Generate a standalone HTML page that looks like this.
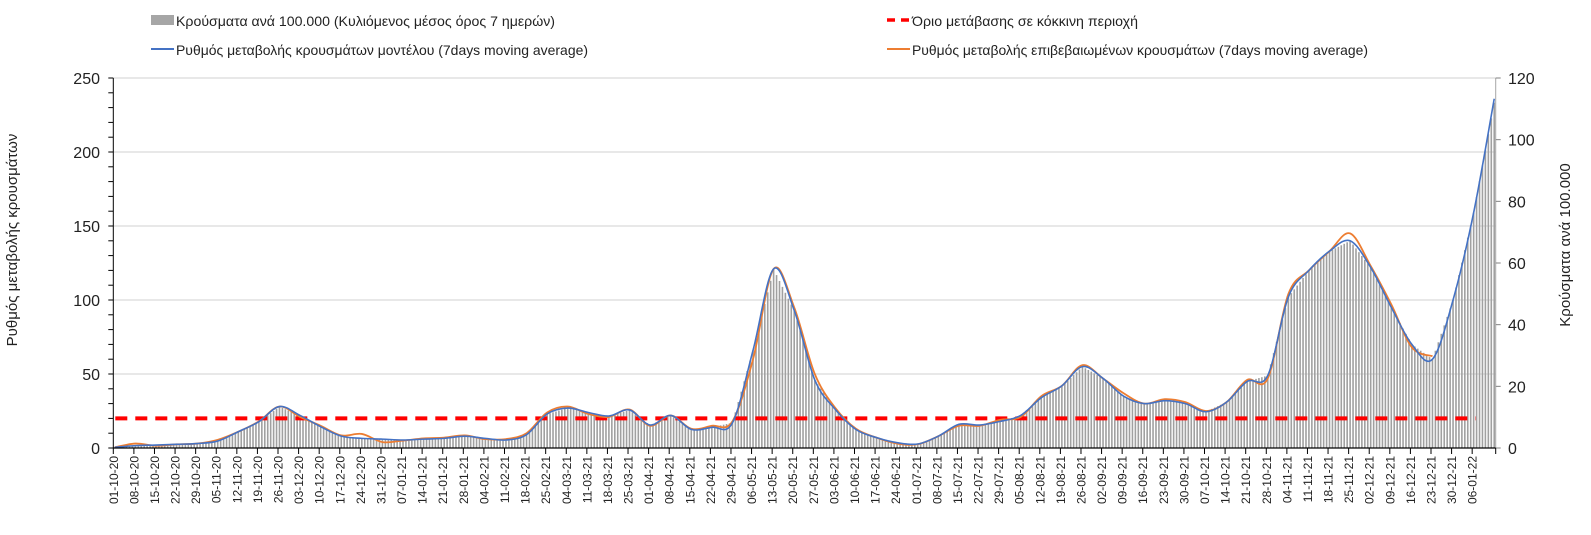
<!DOCTYPE html>
<html><head><meta charset="utf-8"><style>
html,body{margin:0;padding:0;background:#fff;}
svg{display:block;font-family:"Liberation Sans",sans-serif;}
</style></head><body>
<svg id="chart" width="1591" height="535" viewBox="0 0 1591 535" xmlns="http://www.w3.org/2000/svg">
<rect x="0" y="0" width="1591" height="535" fill="#fff"/>
<g id="grid"></g>
<g id="bars"></g>
<g id="lines"></g>
<g id="axes"></g>
<g>
 <rect x="151" y="15" width="23" height="10" fill="#a6a6a6"/>
 <text x="176" y="26" font-size="14" textLength="379" lengthAdjust="spacingAndGlyphs" fill="#222">Κρούσματα ανά 100.000 (Κυλιόμενος μέσος όρος 7 ημερών)</text>
 <line x1="151" y1="49" x2="174" y2="49" stroke="#4472c4" stroke-width="2"/>
 <text x="176" y="55" font-size="14" textLength="412" lengthAdjust="spacingAndGlyphs" fill="#222">Ρυθμός μεταβολής κρουσμάτων μοντέλου (7days moving average)</text>
 <line x1="887" y1="20" x2="910" y2="20" stroke="#ff0000" stroke-width="3.5" stroke-dasharray="8,6"/>
 <text x="912" y="26" font-size="14" textLength="226" lengthAdjust="spacingAndGlyphs" fill="#222">Όριο μετάβασης σε κόκκινη περιοχή</text>
 <line x1="887" y1="49" x2="910" y2="49" stroke="#ed7d31" stroke-width="2"/>
 <text x="912" y="55" font-size="14" textLength="456" lengthAdjust="spacingAndGlyphs" fill="#222">Ρυθμός μεταβολής επιβεβαιωμένων κρουσμάτων (7days moving average)</text>
</g>
<text transform="translate(17,240) rotate(-90)" text-anchor="middle" font-size="15" fill="#222">Ρυθμός μεταβολής κρουσμάτων</text>
<text transform="translate(1570,245) rotate(-90)" text-anchor="middle" font-size="15" fill="#222">Κρούσματα ανά 100.000</text>
</svg>
<script>
const dateLabels = ["01-10-20","08-10-20","15-10-20","22-10-20","29-10-20","05-11-20","12-11-20","19-11-20","26-11-20","03-12-20","10-12-20","17-12-20","24-12-20","31-12-20","07-01-21","14-01-21","21-01-21","28-01-21","04-02-21","11-02-21","18-02-21","25-02-21","04-03-21","11-03-21","18-03-21","25-03-21","01-04-21","08-04-21","15-04-21","22-04-21","29-04-21","06-05-21","13-05-21","20-05-21","27-05-21","03-06-21","10-06-21","17-06-21","24-06-21","01-07-21","08-07-21","15-07-21","22-07-21","29-07-21","05-08-21","12-08-21","19-08-21","26-08-21","02-09-21","09-09-21","16-09-21","23-09-21","30-09-21","07-10-21","14-10-21","21-10-21","28-10-21","04-11-21","11-11-21","18-11-21","25-11-21","02-12-21","09-12-21","16-12-21","23-12-21","30-12-21","06-01-22"];
const sampleDays = [0,7,14,21,28,35,42,49,56,63,70,77,84,91,98,105,112,119,126,133,140,147,154,161,168,175,182,189,196,203,210,217,224,231,238,245,252,259,266,273,280,287,294,301,308,315,322,329,336,343,350,357,364,371,378,385,392,399,406,413,420,427,434,441,448,455,462,469];
const modelRate = [0.5,1.6,2,2.5,3,4.7,11,17.8,28,22,14.4,8,6.5,6,5.4,6,6.5,8,6.5,5.4,9,23,27,24,21.6,25.7,15.5,22,12.6,14,17,66,121,93,46,26,12.5,7,3.6,2.7,8,16,15.5,18,22,34,42,55,47,35,30,32,30,24.5,31,45,49,102,120,133,140,122,95,70,60,100,159,236];
const confirmedRate = [0.5,3,1.5,2.5,3,5.5,11,18,28,21,15,8.5,9.5,4,5,6.5,7,8.5,6,6,10,24,28,23,21,26,15,22,13,15,18,60,121,95,50,27,13,7,3,2.5,8,15,15,19,21,35,42,56,47,37,30,33,31,25,31,46,47,104,120,133,145,123,97,68,62];
const casesPer100k = [0.2,0.8,1,1.2,1.4,2.3,5.3,8.5,13.4,10.5,6.9,3.8,3.1,2.9,2.6,2.9,3.1,3.8,3.1,2.6,4.3,11,13,11.5,10.4,12.3,7.4,10.6,6,6.7,8.2,31.7,58,44.6,22,12.5,6,3.4,1.7,1.3,3.8,7.7,7.4,8.6,10.6,16.3,20,26.4,22.6,16.8,14.4,15.4,14.4,11.8,14.9,21.6,23.5,49,57.6,63.8,67.2,58.6,45.6,33.6,28.8,48,76.3,112];
const threshold = [20];
const leftTicks = [0,50,100,150,200,250];
const rightTicks = [0,20,40,60,80,100,120];

const NS="http://www.w3.org/2000/svg";
const X0=113.3, X1=1495.7, NDAYS=470, Y0=448, YT=78;
const step=(X1-X0)/NDAYS;
const xEdge=d=>X0+d*step;
const xDay=d=>X0+(d+0.5)*step;
const yL=v=>Y0-(v/250)*(Y0-YT);
const yR=v=>Y0-(v/120)*(Y0-YT);
function mk(tag,attrs,parent){const e=document.createElementNS(NS,tag);for(const k in attrs)e.setAttribute(k,attrs[k]);parent.appendChild(e);return e;}
const G=id=>document.getElementById(id);

// gridlines
leftTicks.forEach(t=>{if(t===0)return;
 const l=mk('line',{x1:X0,x2:X1,y1:yL(t),y2:yL(t),stroke:'#d9d9d9','stroke-width':1.2},G('grid'));
 
 
});

// bars (daily, drawn between the read samples)
function valAt(arr,d){
 for(let i=0;i<arr.length-1;i++){const a=sampleDays[i],b=sampleDays[i+1];
  if(d>=a&&d<=b){const t=(d-a)/(b-a);return arr[i]+(arr[i+1]-arr[i])*t;}}
 return arr[arr.length-1];}
for(let d=0;d<NDAYS;d++){
 const v=valAt(casesPer100k,d);
 const r=mk('rect',{x:xDay(d)-0.8,y:yR(v),width:1.6,height:Math.max(0,Y0-yR(v)),fill:'#a0a0a0'},G('bars'));
 
 
}

// threshold
const th=mk('line',{x1:X0+2,x2:X1-20,y1:yL(threshold[0]),y2:yL(threshold[0]),stroke:'#ff0000','stroke-width':4,'stroke-dasharray':'12,8'},G('lines'));



function smoothPath(pts){
 let d=`M${pts[0][0]},${pts[0][1]}`;
 for(let i=0;i<pts.length-1;i++){
  const p0=pts[Math.max(0,i-1)],p1=pts[i],p2=pts[i+1],p3=pts[Math.min(pts.length-1,i+2)];
  const c1=[p1[0]+(p2[0]-p0[0])/6,p1[1]+(p2[1]-p0[1])/6];
  const c2=[p2[0]-(p3[0]-p1[0])/6,p2[1]-(p3[1]-p1[1])/6];
  d+=` C${c1[0]},${c1[1]} ${c2[0]},${c2[1]} ${p2[0]},${p2[1]}`;}
 return d;}
const oPts=confirmedRate.map((v,i)=>[xDay(sampleDays[i]),yL(v)]);
const op=mk('path',{d:smoothPath(oPts),fill:'none',stroke:'#ed7d31','stroke-width':1.8},G('lines'));


const mPts=modelRate.map((v,i)=>[xDay(sampleDays[i]),yL(v)]);
const mp=mk('path',{d:smoothPath(mPts),fill:'none',stroke:'#4472c4','stroke-width':1.6},G('lines'));



// axes
const ax=G('axes');
const la=mk('line',{x1:X0,x2:X0,y1:YT,y2:Y0,stroke:'#000','stroke-width':1},ax);


const ra=mk('line',{x1:X1,x2:X1,y1:YT,y2:Y0,stroke:'#a6a6a6','stroke-width':1},ax);


const xa=mk('line',{x1:X0,x2:X1,y1:Y0,y2:Y0,stroke:'#000','stroke-width':1.2},ax);


for(let v=0;v<=250;v+=10){mk('line',{x1:X0-5,x2:X0,y1:yL(v),y2:yL(v),stroke:'#000','stroke-width':1},ax);}
leftTicks.forEach(t=>{
 const tx=mk('text',{x:100,y:yL(t)+6,'text-anchor':'end','font-size':16,fill:'#222'},ax);
 tx.textContent=t;
 
 
});
rightTicks.forEach(t=>{
 mk('line',{x1:X1,x2:X1+5,y1:yR(t),y2:yR(t),stroke:'#808080','stroke-width':1},ax);
 const tx=mk('text',{x:1508,y:yR(t)+6,'font-size':16,fill:'#222'},ax);
 tx.textContent=t;
 
 
});
dateLabels.forEach((lab,i)=>{
 const x=xEdge(i*7);
 mk('line',{x1:x,x2:x,y1:Y0,y2:Y0+6,stroke:'#000','stroke-width':1},ax);
 const tx=mk('text',{transform:`translate(${x+4.5},${Y0+8}) rotate(-90)`,'text-anchor':'end','font-size':12,fill:'#222'},ax);
 tx.textContent=lab;
 
 
});
mk('line',{x1:X1,x2:X1,y1:Y0,y2:Y0+6,stroke:'#000','stroke-width':1},ax);
</script>
</body></html>
